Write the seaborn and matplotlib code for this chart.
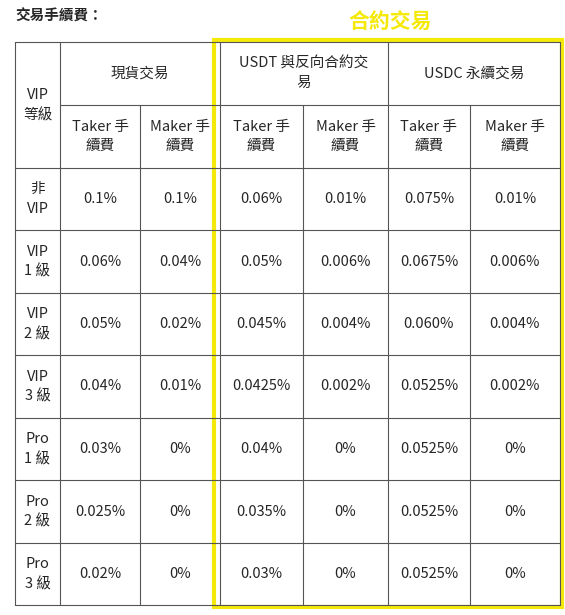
import matplotlib
matplotlib.use("Agg")
import matplotlib.pyplot as plt
import seaborn as sns
from matplotlib.patches import Rectangle

# Table content
tiers = ["VIP\n等級", "非\nVIP", "VIP\n1 級", "VIP\n2 級", "VIP\n3 級", "Pro\n1 級", "Pro\n2 級", "Pro\n3 級"]
groups = ["現貨交易", "USDT 與反向合約交\n易", "USDC 永續交易"]
sub_headers = ["Taker 手\n續費", "Maker 手\n續費"] * 3
spot_taker = ["0.1%", "0.06%", "0.05%", "0.04%", "0.03%", "0.025%", "0.02%"]
spot_maker = ["0.1%", "0.04%", "0.02%", "0.01%", "0%", "0%", "0%"]
usdt_taker = ["0.06%", "0.05%", "0.045%", "0.0425%", "0.04%", "0.035%", "0.03%"]
usdt_maker = ["0.01%", "0.006%", "0.004%", "0.002%", "0%", "0%", "0%"]
usdc_taker = ["0.075%", "0.0675%", "0.060%", "0.0525%", "0.0525%", "0.0525%", "0.0525%"]
usdc_maker = ["0.01%", "0.006%", "0.004%", "0.002%", "0%", "0%", "0%"]
columns = [spot_taker, spot_maker, usdt_taker, usdt_maker, usdc_taker, usdc_maker]

sns.set_style("white")
plt.rcParams["font.family"] = ["Noto Sans CJK TC", "DejaVu Sans"]

W, H = 565, 615
fig = plt.figure(figsize=(W / 100, H / 100), dpi=100)
ax = fig.add_axes([0, 0, 1, 1])
ax.set_xlim(0, W)
ax.set_ylim(H, 0)
ax.axis("off")

xs = [15, 60, 140, 220, 303, 388, 470, 560]
ys = [42, 105, 168, 230, 293, 355, 418, 480, 543, 605]
line = dict(color="#555555", lw=0.8)
fs = 10.5

# grid lines
ax.plot([xs[0], xs[-1]], [ys[0], ys[0]], **line)
ax.plot([xs[1], xs[-1]], [ys[1], ys[1]], **line)
for y in ys[2:]:
    ax.plot([xs[0], xs[-1]], [y, y], **line)
for i, x in enumerate(xs):
    if i in (2, 4, 6):
        ax.plot([x, x], [ys[1], ys[-1]], **line)
    else:
        ax.plot([x, x], [ys[0], ys[-1]], **line)

# headers
ax.text((xs[0] + xs[1]) / 2, (ys[0] + ys[2]) / 2, tiers[0], ha="center", va="center", fontsize=fs, linespacing=1.5)
for g, name in enumerate(groups):
    ax.text((xs[1 + 2 * g] + xs[3 + 2 * g]) / 2, (ys[0] + ys[1]) / 2, name,
            ha="center", va="center", fontsize=fs, linespacing=1.5)
for c, name in enumerate(sub_headers):
    ax.text((xs[1 + c] + xs[2 + c]) / 2, (ys[1] + ys[2]) / 2, name,
            ha="center", va="center", fontsize=fs, linespacing=1.5)

# body
for r in range(7):
    yc = (ys[2 + r] + ys[3 + r]) / 2
    ax.text((xs[0] + xs[1]) / 2, yc, tiers[r + 1], ha="center", va="center", fontsize=fs, linespacing=1.5)
    for c, col in enumerate(columns):
        ax.text((xs[1 + c] + xs[2 + c]) / 2, yc, col[r], ha="center", va="center", fontsize=fs)

# title and highlight
ax.text(15, 16, "交易手續費：", ha="left", va="center", fontsize=10.5, fontweight="bold")
ax.add_patch(Rectangle((214, 40), 348, 567, fill=False, edgecolor="#f5e90a", lw=3))
ax.text(390, 22, "合約交易", ha="center", va="center", fontsize=15, fontweight="bold",
        color="#f5e90a")

fig.savefig("out.png", dpi=100)
